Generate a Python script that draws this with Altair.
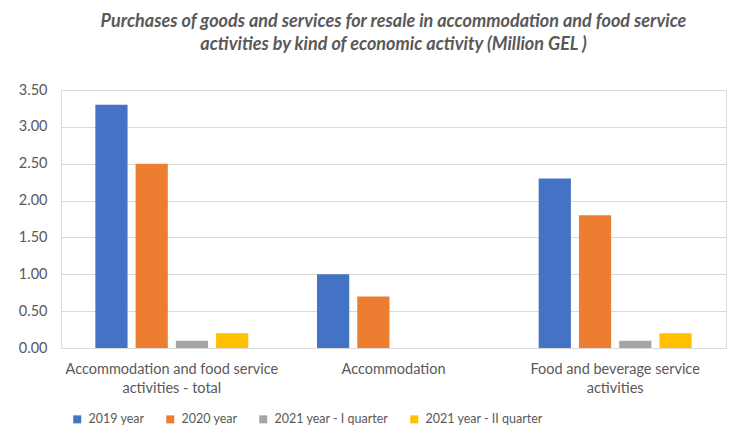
import altair as alt
import pandas as pd

categories = [
    "Accommodation and food service activities - total",
    "Accommodation",
    "Food and beverage service activities",
]
series = ["2019 year", "2020 year", "2021 year - I quarter", "2021 year - II quarter"]
values = {
    "2019 year": [3.30, 1.00, 2.30],
    "2020 year": [2.50, 0.70, 1.80],
    "2021 year - I quarter": [0.10, 0.0, 0.10],
    "2021 year - II quarter": [0.20, 0.0, 0.20],
}
colors = ["#4472C4", "#ED7D31", "#A5A5A5", "#FFC000"]
y_ticks = [0, 0.5, 1.0, 1.5, 2.0, 2.5, 3.0, 3.5]

rows = []
for s in series:
    for c, v in zip(categories, values[s]):
        rows.append({"category": c, "series": s, "value": v})
df = pd.DataFrame(rows)

label_expr = (
    "datum.label == 'Accommodation and food service activities - total' ? "
    "['Accommodation and food service', 'activities - total'] : "
    "datum.label == 'Food and beverage service activities' ? "
    "['Food and beverage service', 'activities'] : datum.label"
)

font = "Lato"
txt = "#595959"

chart = (
    alt.Chart(df)
    .mark_bar()
    .encode(
        x=alt.X(
            "category:N",
            sort=categories,
            title=None,
            scale=alt.Scale(paddingInner=0.31, paddingOuter=0.155),
            axis=alt.Axis(
                labelAngle=0,
                labelExpr=label_expr,
                labelFont=font,
                labelFontSize=14.5,
                labelColor=txt,
                labelPadding=14,
                labelLineHeight=19,
                labelLimit=400,
                ticks=False,
                domainColor="#d9d9d9",
            ),
        ),
        xOffset=alt.XOffset(
            "series:N", sort=series, scale=alt.Scale(paddingInner=0.2, paddingOuter=0)
        ),
        y=alt.Y(
            "value:Q",
            title=None,
            scale=alt.Scale(domain=[0, 3.5], nice=False),
            axis=alt.Axis(
                values=y_ticks,
                format=".2f",
                labelFont=font,
                labelFontSize=14.5,
                labelColor=txt,
                labelPadding=14,
                ticks=False,
                domain=False,
                gridColor="#d9d9d9",
            ),
        ),
        color=alt.Color(
            "series:N",
            sort=series,
            scale=alt.Scale(domain=series, range=colors),
            legend=alt.Legend(
                title=None,
                orient="none",
                legendX=10,
                legendY=323,
                direction="horizontal",
                symbolType="square",
                symbolSize=64,
                symbolStrokeWidth=0,
                labelFont=font,
                labelFontSize=12.5,
                labelColor=txt,
                labelOffset=5,
                columnPadding=19,
            ),
        ),
    )
    .properties(
        width=665,
        height=258,
        title=alt.TitleParams(
            text=[
                "Purchases of goods and services for resale in  accommodation and food service",
                "activities by kind of economic activity (Million GEL )",
            ],
            font=font,
            fontSize=18,
            fontStyle="italic",
            fontWeight="bold",
            color=txt,
            lineHeight=23,
            offset=28,
            anchor="middle",
        ),
        padding={"left": 18, "top": 13, "right": 6, "bottom": 10},
    )
    .configure_view(stroke=None)
    .configure(background="white")
)

chart.save("out.html", embed_options={"renderer": "svg", "actions": False})
